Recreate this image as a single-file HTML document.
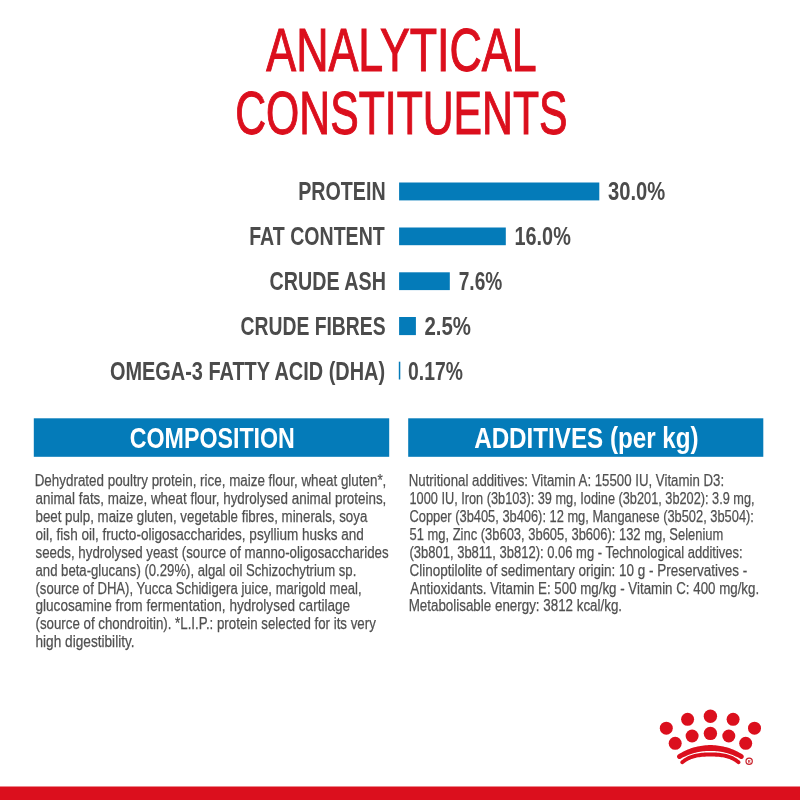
<!DOCTYPE html>
<html><head><meta charset="utf-8"><title>Analytical constituents</title>
<style>
html,body{margin:0;padding:0;background:#fff;}
body{width:800px;height:800px;overflow:hidden;}
svg{display:block;will-change:transform;}
svg text{font-family:"Liberation Sans",Arial,sans-serif;}
</style></head><body>
<svg width="800" height="800" viewBox="0 0 800 800">
<rect width="800" height="800" fill="#fff"/>
<rect x="399.1" y="182.5" width="200.20" height="17.90" fill="#047bb9"/><rect x="399.1" y="227.5" width="106.70" height="17.70" fill="#047bb9"/><rect x="399.1" y="272.3" width="50.70" height="17.80" fill="#047bb9"/><rect x="399.1" y="317" width="16.80" height="18.10" fill="#047bb9"/><rect x="398.8" y="361.7" width="1.5" height="17.8" fill="#047bb9"/><rect x="33.8" y="418.3" width="355.4" height="38.5" fill="#047bb9"/><rect x="408.2" y="418.3" width="355.1" height="38.5" fill="#047bb9"/><rect x="0" y="786.5" width="800" height="13.5" fill="#db0f1d"/>
<g fill="#db0f1d"><circle cx="710.4" cy="716.2" r="6.7"/><circle cx="687.6" cy="719.3" r="6.5"/><circle cx="733.1" cy="719.3" r="6.5"/><circle cx="666.3" cy="728.2" r="6.5"/><circle cx="754.5" cy="728.2" r="6.5"/><circle cx="710.4" cy="733.4" r="6.7"/><circle cx="692.1" cy="736" r="6.5"/><circle cx="728.8" cy="736" r="6.5"/><circle cx="675.2" cy="743.3" r="6.5"/><circle cx="745.7" cy="743.3" r="6.5"/><path d="M678.16 754.57 L679.75 753.59 L681.34 752.67 L682.94 751.81 L684.53 751.02 L686.14 750.27 L687.74 749.59 L689.35 748.95 L690.96 748.37 L692.57 747.84 L694.18 747.36 L695.80 746.92 L697.42 746.54 L699.04 746.20 L700.66 745.90 L702.28 745.66 L703.90 745.46 L705.53 745.30 L707.15 745.19 L708.78 745.12 L710.40 745.10 L712.02 745.12 L713.65 745.19 L715.27 745.30 L716.90 745.46 L718.52 745.66 L720.14 745.90 L721.76 746.20 L723.38 746.54 L725.00 746.92 L726.62 747.36 L728.23 747.84 L729.84 748.37 L731.45 748.95 L733.06 749.59 L734.66 750.27 L736.27 751.02 L737.86 751.81 L739.46 752.67 L741.05 753.59 L742.64 754.57 L743.13 754.96 L743.50 755.47 L743.73 756.05 L743.80 756.68 L743.71 757.29 L743.45 757.87 L743.06 758.36 L742.56 758.73 L741.98 758.96 L741.35 759.03 L740.73 758.93 L740.16 758.68 L738.65 757.86 L737.14 757.09 L735.64 756.38 L734.13 755.71 L732.64 755.10 L731.14 754.54 L729.65 754.02 L728.16 753.54 L726.67 753.11 L725.18 752.72 L723.70 752.37 L722.22 752.05 L720.74 751.78 L719.26 751.55 L717.78 751.35 L716.30 751.19 L714.83 751.06 L713.35 750.97 L711.88 750.92 L710.40 750.90 L708.92 750.92 L707.45 750.97 L705.97 751.06 L704.50 751.19 L703.02 751.35 L701.54 751.55 L700.06 751.78 L698.58 752.05 L697.10 752.37 L695.62 752.72 L694.13 753.11 L692.64 753.54 L691.15 754.02 L689.66 754.54 L688.16 755.10 L686.67 755.71 L685.16 756.38 L683.66 757.09 L682.15 757.86 L680.64 758.68 L680.07 758.93 L679.45 759.03 L678.82 758.96 L678.24 758.73 L677.74 758.36 L677.35 757.87 L677.09 757.29 L677.00 756.68 L677.07 756.05 L677.30 755.47 L677.67 754.96 Z"/><path d="M680.97 760.86 L682.46 759.65 L683.95 758.57 L685.45 757.63 L686.95 756.79 L688.45 756.06 L689.95 755.43 L691.44 754.88 L692.93 754.41 L694.42 754.01 L695.89 753.67 L697.37 753.39 L698.83 753.15 L700.29 752.95 L701.75 752.79 L703.20 752.67 L704.64 752.57 L706.08 752.49 L707.52 752.44 L708.96 752.41 L710.40 752.40 L711.84 752.41 L713.28 752.44 L714.72 752.49 L716.16 752.57 L717.60 752.67 L719.05 752.79 L720.51 752.95 L721.97 753.15 L723.43 753.39 L724.91 753.67 L726.38 754.01 L727.87 754.41 L729.36 754.88 L730.85 755.43 L732.35 756.06 L733.85 756.79 L735.35 757.63 L736.85 758.57 L738.34 759.65 L739.83 760.86 L740.16 761.22 L740.39 761.66 L740.49 762.15 L740.47 762.64 L740.32 763.12 L740.05 763.53 L739.68 763.87 L739.24 764.09 L738.76 764.20 L738.26 764.17 L737.79 764.02 L737.37 763.75 L736.04 762.71 L734.71 761.79 L733.39 760.98 L732.07 760.27 L730.75 759.66 L729.43 759.12 L728.10 758.65 L726.77 758.25 L725.44 757.91 L724.09 757.62 L722.75 757.37 L721.39 757.16 L720.03 756.99 L718.67 756.85 L717.30 756.74 L715.92 756.65 L714.54 756.58 L713.16 756.54 L711.78 756.51 L710.40 756.50 L709.02 756.51 L707.64 756.54 L706.26 756.58 L704.88 756.65 L703.50 756.74 L702.13 756.85 L700.77 756.99 L699.41 757.16 L698.05 757.37 L696.71 757.62 L695.36 757.91 L694.03 758.25 L692.70 758.65 L691.37 759.12 L690.05 759.66 L688.73 760.27 L687.41 760.98 L686.09 761.79 L684.76 762.71 L683.43 763.75 L683.01 764.02 L682.54 764.17 L682.04 764.20 L681.56 764.09 L681.12 763.87 L680.75 763.53 L680.48 763.12 L680.33 762.64 L680.31 762.15 L680.41 761.66 L680.64 761.22 Z"/><circle cx="749.15" cy="761.25" r="3.15" fill="none" stroke="#c8202a" stroke-width="1.2"/><text x="749.15" y="762.7" font-size="4" font-weight="700" text-anchor="middle" fill="#c8202a">R</text></g>
<text x="266.30" y="71.30" font-size="61.8" font-weight="400" fill="#db0f1d" stroke="#db0f1d" stroke-width="1.1" textLength="270.30" lengthAdjust="spacingAndGlyphs">ANALYTICAL</text>
<text x="235.20" y="134.20" font-size="61.8" font-weight="400" fill="#db0f1d" stroke="#db0f1d" stroke-width="1.1" textLength="332.40" lengthAdjust="spacingAndGlyphs">CONSTITUENTS</text>
<text x="298.20" y="200.20" font-size="25.7" font-weight="700" fill="#4b4b4b" textLength="87.40" lengthAdjust="spacingAndGlyphs">PROTEIN</text>
<text x="249.20" y="244.80" font-size="25.7" font-weight="700" fill="#4b4b4b" textLength="135.60" lengthAdjust="spacingAndGlyphs">FAT CONTENT</text>
<text x="269.50" y="290.20" font-size="25.7" font-weight="700" fill="#4b4b4b" textLength="116.38" lengthAdjust="spacingAndGlyphs">CRUDE ASH</text>
<text x="240.50" y="335.00" font-size="25.7" font-weight="700" fill="#4b4b4b" textLength="145.10" lengthAdjust="spacingAndGlyphs">CRUDE FIBRES</text>
<text x="110.00" y="379.60" font-size="25.7" font-weight="700" fill="#4b4b4b" textLength="275.10" lengthAdjust="spacingAndGlyphs">OMEGA-3 FATTY ACID (DHA)</text>
<text x="608.02" y="200.20" font-size="25.7" font-weight="700" fill="#4b4b4b" textLength="57.30" lengthAdjust="spacingAndGlyphs">30.0%</text>
<text x="514.48" y="244.80" font-size="25.7" font-weight="700" fill="#4b4b4b" textLength="56.32" lengthAdjust="spacingAndGlyphs">16.0%</text>
<text x="458.74" y="290.20" font-size="25.7" font-weight="700" fill="#4b4b4b" textLength="43.56" lengthAdjust="spacingAndGlyphs">7.6%</text>
<text x="424.48" y="335.00" font-size="25.7" font-weight="700" fill="#4b4b4b" textLength="46.58" lengthAdjust="spacingAndGlyphs">2.5%</text>
<text x="408.02" y="379.60" font-size="25.7" font-weight="700" fill="#4b4b4b" textLength="54.80" lengthAdjust="spacingAndGlyphs">0.17%</text>
<text x="129.70" y="448.30" font-size="29.4" font-weight="700" fill="#ffffff" textLength="165.20" lengthAdjust="spacingAndGlyphs">COMPOSITION</text>
<text x="474.20" y="448.30" font-size="29.4" font-weight="700" fill="#ffffff" textLength="224.40" lengthAdjust="spacingAndGlyphs">ADDITIVES (per kg)</text>
<text x="34.70" y="486.10" font-size="17.3" font-weight="400" fill="#505050" stroke="#505050" stroke-width="0.25" textLength="351.66" lengthAdjust="spacingAndGlyphs">Dehydrated poultry protein, rice, maize flour, wheat gluten*,</text>
<text x="35.50" y="504.00" font-size="17.3" font-weight="400" fill="#505050" stroke="#505050" stroke-width="0.25" textLength="350.84" lengthAdjust="spacingAndGlyphs">animal fats, maize, wheat flour, hydrolysed animal proteins,</text>
<text x="35.50" y="521.90" font-size="17.3" font-weight="400" fill="#505050" stroke="#505050" stroke-width="0.25" textLength="331.80" lengthAdjust="spacingAndGlyphs">beet pulp, maize gluten, vegetable fibres, minerals, soya</text>
<text x="35.50" y="539.80" font-size="17.3" font-weight="400" fill="#505050" stroke="#505050" stroke-width="0.25" textLength="328.32" lengthAdjust="spacingAndGlyphs">oil, fish oil, fructo-oligosaccharides, psyllium husks and</text>
<text x="35.50" y="557.70" font-size="17.3" font-weight="400" fill="#505050" stroke="#505050" stroke-width="0.25" textLength="353.08" lengthAdjust="spacingAndGlyphs">seeds, hydrolysed yeast (source of manno-oligosaccharides</text>
<text x="35.50" y="575.60" font-size="17.3" font-weight="400" fill="#505050" stroke="#505050" stroke-width="0.25" textLength="320.84" lengthAdjust="spacingAndGlyphs">and beta-glucans) (0.29%), algal oil Schizochytrium sp.</text>
<text x="35.50" y="593.50" font-size="17.3" font-weight="400" fill="#505050" stroke="#505050" stroke-width="0.25" textLength="326.10" lengthAdjust="spacingAndGlyphs">(source of DHA), Yucca Schidigera juice, marigold meal,</text>
<text x="35.50" y="611.40" font-size="17.3" font-weight="400" fill="#505050" stroke="#505050" stroke-width="0.25" textLength="314.60" lengthAdjust="spacingAndGlyphs">glucosamine from fermentation, hydrolysed cartilage</text>
<text x="35.50" y="629.30" font-size="17.3" font-weight="400" fill="#505050" stroke="#505050" stroke-width="0.25" textLength="340.30" lengthAdjust="spacingAndGlyphs">(source of chondroitin). *L.I.P.: protein selected for its very</text>
<text x="35.50" y="647.20" font-size="17.3" font-weight="400" fill="#505050" stroke="#505050" stroke-width="0.25" textLength="99.10" lengthAdjust="spacingAndGlyphs">high digestibility.</text>
<text x="408.70" y="486.10" font-size="17.3" font-weight="400" fill="#505050" stroke="#505050" stroke-width="0.25" textLength="315.42" lengthAdjust="spacingAndGlyphs">Nutritional additives: Vitamin A: 15500 IU, Vitamin D3:</text>
<text x="409.50" y="504.00" font-size="17.3" font-weight="400" fill="#505050" stroke="#505050" stroke-width="0.25" textLength="345.10" lengthAdjust="spacingAndGlyphs">1000 IU, Iron (3b103): 39 mg, Iodine (3b201, 3b202): 3.9 mg,</text>
<text x="409.50" y="521.90" font-size="17.3" font-weight="400" fill="#505050" stroke="#505050" stroke-width="0.25" textLength="344.38" lengthAdjust="spacingAndGlyphs">Copper (3b405, 3b406): 12 mg, Manganese (3b502, 3b504):</text>
<text x="409.50" y="539.80" font-size="17.3" font-weight="400" fill="#505050" stroke="#505050" stroke-width="0.25" textLength="313.82" lengthAdjust="spacingAndGlyphs">51 mg, Zinc (3b603, 3b605, 3b606): 132 mg, Selenium</text>
<text x="409.50" y="557.70" font-size="17.3" font-weight="400" fill="#505050" stroke="#505050" stroke-width="0.25" textLength="333.10" lengthAdjust="spacingAndGlyphs">(3b801, 3b811, 3b812): 0.06 mg - Technological additives:</text>
<text x="409.50" y="575.60" font-size="17.3" font-weight="400" fill="#505050" stroke="#505050" stroke-width="0.25" textLength="337.82" lengthAdjust="spacingAndGlyphs">Clinoptilolite of sedimentary origin: 10 g - Preservatives -</text>
<text x="410.30" y="593.50" font-size="17.3" font-weight="400" fill="#505050" stroke="#505050" stroke-width="0.25" textLength="348.80" lengthAdjust="spacingAndGlyphs">Antioxidants. Vitamin E: 500 mg/kg - Vitamin C: 400 mg/kg.</text>
<text x="408.70" y="611.40" font-size="17.3" font-weight="400" fill="#505050" stroke="#505050" stroke-width="0.25" textLength="213.40" lengthAdjust="spacingAndGlyphs">Metabolisable energy: 3812 kcal/kg.</text>
</svg>
</body></html>
